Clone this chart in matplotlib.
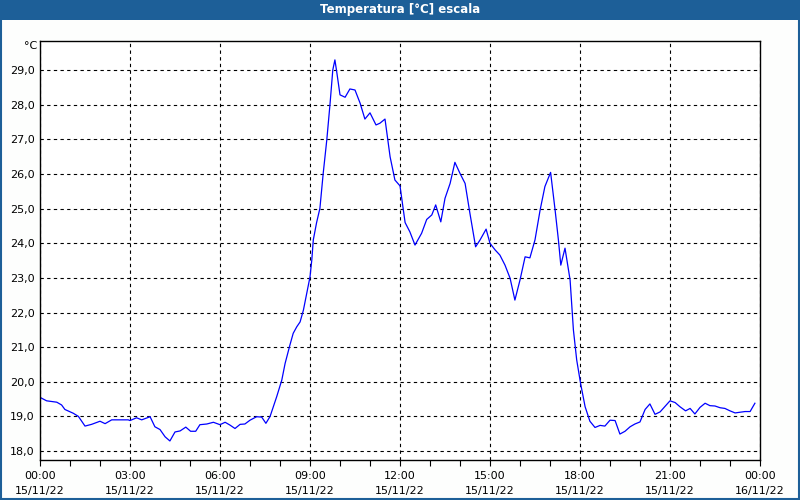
import numpy as np
import matplotlib
matplotlib.use('Agg')
import matplotlib.pyplot as plt
from matplotlib.patches import Rectangle
from matplotlib.ticker import MultipleLocator, FuncFormatter

# hours since 00:00 15/11/22, temperature in degC
hours = [0.00, 0.22, 0.56, 0.72, 0.83, 1.11, 1.28, 1.50, 1.72, 2.00, 2.17, 2.39,
         2.94, 3.00, 3.22, 3.39, 3.67, 3.83, 4.00, 4.17, 4.33, 4.50, 4.67, 4.86,
         5.02, 5.19, 5.33, 5.56, 5.78, 6.00, 6.17, 6.33, 6.50, 6.67, 6.83, 7.00,
         7.22, 7.39, 7.53, 7.67, 7.89, 8.06, 8.17, 8.33, 8.44, 8.56, 8.67, 8.78,
         8.89, 9.00, 9.06, 9.11, 9.22, 9.33, 9.44, 9.56, 9.67, 9.76, 9.83, 9.89,
         10.00, 10.17, 10.33, 10.50, 10.67, 10.83, 11.00, 11.20, 11.33, 11.50,
         11.67, 11.83, 12.00, 12.17, 12.33, 12.50, 12.72, 12.89, 13.06, 13.19,
         13.36, 13.50, 13.67, 13.83, 14.00, 14.17, 14.33, 14.52, 14.67, 14.87,
         15.00, 15.17, 15.33, 15.50, 15.67, 15.83, 16.00, 16.17, 16.33, 16.50,
         16.67, 16.83, 17.02, 17.17, 17.28, 17.36, 17.50, 17.67, 17.78, 17.89,
         18.02, 18.17, 18.33, 18.50, 18.67, 18.83, 19.00, 19.17, 19.33, 19.50,
         19.67, 19.83, 20.00, 20.17, 20.33, 20.50, 20.67, 21.00, 21.17, 21.33,
         21.52, 21.67, 21.83, 22.00, 22.17, 22.33, 22.50, 22.67, 22.83, 23.00,
         23.17, 23.33, 23.50, 23.67, 23.83]
temp = [19.55, 19.45, 19.41, 19.33, 19.20, 19.09, 19.00, 18.72, 18.77, 18.86, 18.79, 18.90,
        18.90, 18.88, 18.96, 18.90, 18.99, 18.70, 18.62, 18.41, 18.29, 18.55, 18.58, 18.69,
        18.57, 18.57, 18.76, 18.78, 18.83, 18.76, 18.83, 18.75, 18.65, 18.77, 18.78, 18.89,
        18.99, 18.98, 18.80, 19.00, 19.57, 20.05, 20.53, 21.06, 21.40, 21.59, 21.73, 22.07,
        22.55, 23.03, 23.52, 24.10, 24.60, 25.01, 26.02, 26.99, 28.05, 29.01, 29.30, 28.96,
        28.29, 28.22, 28.46, 28.43, 28.05, 27.59, 27.77, 27.42, 27.47, 27.59,
        26.50, 25.83, 25.66, 24.60, 24.33, 23.95, 24.29, 24.69, 24.82, 25.11,
        24.62, 25.30, 25.73, 26.34, 26.02, 25.73, 24.87, 23.90, 24.10, 24.41,
        24.00, 23.81, 23.66, 23.37, 22.99, 22.36, 22.94, 23.61, 23.58, 24.10,
        24.96, 25.64, 26.05, 24.96, 24.10, 23.37, 23.86, 22.94, 21.50, 20.63,
        19.95, 19.28, 18.86, 18.68, 18.74, 18.72, 18.89, 18.88, 18.49, 18.57,
        18.70, 18.78, 18.84, 19.20, 19.36, 19.06, 19.13, 19.45, 19.40, 19.28,
        19.16, 19.23, 19.07, 19.26, 19.38, 19.31, 19.30, 19.25, 19.23, 19.16,
        19.10, 19.12, 19.14, 19.14, 19.38]

tick_labels = ['00:00\n15/11/22', '03:00\n15/11/22', '06:00\n15/11/22', '09:00\n15/11/22',
               '12:00\n15/11/22', '15:00\n15/11/22', '18:00\n15/11/22', '21:00\n15/11/22',
               '00:00\n16/11/22']

title = 'Temperatura [°C] escala'
barcol = '#1d5f98'

fig = plt.figure(figsize=(8, 5), dpi=100, facecolor='#fdfefd')
ax = fig.add_axes([0.05, 0.08, 0.90, 0.839])
ax.set_facecolor('white')

ax.plot(hours, temp, color='#0000ff', lw=0.9)

ax.set_xlim(0, 24)
ax.set_ylim(17.74, 29.86)
ax.set_xticks(np.arange(0, 25, 3))
ax.set_xticklabels(tick_labels, linespacing=1.55)
ax.xaxis.set_minor_locator(MultipleLocator(1))
ax.set_yticks(np.arange(18, 30, 1))
ax.yaxis.set_major_formatter(FuncFormatter(lambda v, p: ('%.1f' % v).replace('.', ',')))

ax.tick_params(axis='x', which='both', direction='out', length=4, width=0.8,
               labelsize=8, pad=4, colors='black')
ax.tick_params(axis='y', length=0, labelsize=8, pad=4)
ax.grid(True, which='major', color='black', linestyle=(0, (3, 3)), linewidth=0.8)

for s in ax.spines.values():
    s.set_linewidth(1.0)
    s.set_color('black')

fig.text(37/800, 1 - 46/500, '°C', ha='right', va='center', fontsize=8)

# title bar and frame
fig.patches.append(Rectangle((0, 1 - 20/500), 1, 20/500, transform=fig.transFigure,
                             facecolor=barcol, edgecolor='none', zorder=0))
fig.patches.append(Rectangle((0.001, 0.002), 0.998, 0.997, transform=fig.transFigure,
                             facecolor='none', edgecolor=barcol, linewidth=1.5, zorder=1))
fig.text(0.5, 1 - 10/500, title, ha='center', va='center', color='white',
         fontsize=8.5, fontweight='bold')

fig.savefig('out.png', dpi=100, facecolor=fig.get_facecolor())
